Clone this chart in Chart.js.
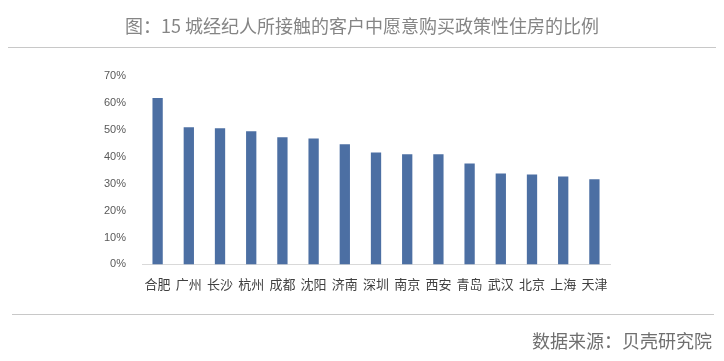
<!DOCTYPE html>
<html>
<head>
<meta charset="utf-8">
<script src="https://cdn.jsdelivr.net/npm/chart.js@4/dist/chart.umd.min.js"></script>
<style>
  body { margin: 0; background: #fff; }
  #wrap { position: relative; width: 724px; height: 361px; overflow: hidden; }
  #chart { position: absolute; left: 0; top: 0; }
  .title { position: absolute; left: 0; width: 724px; top: 12px; text-align: center;
           font: 18px "Noto Sans CJK SC", sans-serif; color: #858585; }
  .rule { position: absolute; height: 1px; background: #c8c8c8; }
  .source { position: absolute; right: 12px; top: 327px;
            font: 18px "Noto Sans CJK SC", sans-serif; color: #6f6f6f; }
</style>
</head>
<body>
<div id="wrap">
  <canvas id="chart" width="724" height="361"></canvas>
  <div class="title">图：15 城经纪人所接触的客户中愿意购买政策性住房的比例</div>
  <div class="rule" style="left:8px; width:708px; top:47px;"></div>
  <div class="rule" style="left:12px; width:702px; top:314px;"></div>
  <div class="source">数据来源：贝壳研究院</div>
</div>
<script>
// cities and share of clients willing to buy policy housing (%)
const cities = ['合肥', '广州', '长沙', '杭州', '成都', '沈阳', '济南', '深圳', '南京', '西安', '青岛', '武汉', '北京', '上海', '天津'];
const shares = [61.8, 51.0, 50.6, 49.5, 47.2, 46.8, 44.6, 41.6, 40.9, 40.9, 37.5, 33.8, 33.4, 32.7, 31.6];
const yMax = 70;
const yStep = 10;

const ctx = document.getElementById('chart').getContext('2d');
new Chart(ctx, {
    type: 'bar',
    data: {
        labels: cities,
        datasets: [{
            data: shares,
            backgroundColor: '#4c6fa3',
            categoryPercentage: 1,
            barPercentage: 0.33
        }]
    },
    options: {
        responsive: false,
        animation: false,
        layout: { padding: { left: 96, right: 114, top: 76, bottom: 65 } },
        plugins: { legend: { display: false }, tooltip: { enabled: false } },
        scales: {
            x: {
                grid: { display: false },
                border: { color: '#d9d9d9' },
                ticks: {
                    color: '#404040',
                    font: { family: 'Noto Sans CJK SC', size: 13 },
                    padding: 4,
                    maxRotation: 0,
                    autoSkip: false
                }
            },
            y: {
                min: 0,
                max: yMax,
                grid: { display: false },
                border: { display: false },
                ticks: {
                    stepSize: yStep,
                    color: '#595959',
                    font: { family: 'Liberation Sans', size: 11 },
                    padding: 8,
                    callback: v => v + '%'
                }
            }
        }
    }
});
</script>
</body>
</html>
